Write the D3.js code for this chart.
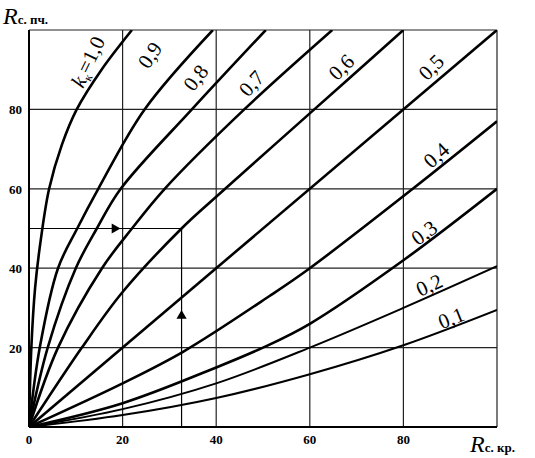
<!DOCTYPE html>
<html>
<head>
<meta charset="utf-8">
<script src="https://cdn.jsdelivr.net/npm/d3@7"></script>
<style>
  body { margin: 0; background: #fff; }
  text { font-family: "Liberation Serif", "DejaVu Serif", serif; }
</style>
</head>
<body>
<svg id="chart" width="535" height="458"></svg>
<script>
// curves: [R_kr, R_pch]
const curves = [
  { k: "1.0", pts: [[0,0],[0.5,20],[1.3,35],[2.5,47],[4.3,60],[7,71],[10.2,80],[15.5,90],[22,100]] },
  { k: "0.9", pts: [[0,0],[2.3,20],[6.2,40],[10.3,50],[14.8,60],[24.7,80],[39.3,100]] },
  { k: "0.8", pts: [[0,0],[4,20],[10,40],[14.5,50],[19.6,60],[34.8,80],[50.6,100]] },
  { k: "0.7", pts: [[0,0],[6.2,20],[15.6,40],[22,50],[29,60],[46,80],[64.8,100]] },
  { k: "0.6", pts: [[0,0],[11.3,20],[20,34],[32.6,50],[40,58],[60,79],[80,100]] },
  { k: "0.5", pts: [[0,0],[100,100]] },
  { k: "0.4", pts: [[0,0],[20,11],[33,19],[51.4,33],[60,40],[82,60],[100,77]] },
  { k: "0.3", pts: [[0,0],[20,6],[40,15],[50,20],[60,26],[80,42],[100,60]] },
  { k: "0.2", pts: [[0,0],[20,4.5],[40,11],[60,20],[80,30],[100,40.5]] },
  { k: "0.1", pts: [[0,0],[20,3],[40,7.3],[60,13.3],[80,20.6],[100,29.5]] }
];
// curve labels: text, position (data units), rotation
const labels = [
  { t: "1,0", x: 12.6, y: 92, r: -64, kk: true },
  { t: "0,9", x: 25.8, y: 93.7, r: -56 },
  { t: "0,8", x: 35.6, y: 88, r: -52 },
  { t: "0,7", x: 47.5, y: 86.6, r: -48 },
  { t: "0,6", x: 66.7, y: 90.7, r: -45 },
  { t: "0,5", x: 85.9, y: 90.7, r: -45 },
  { t: "0,4", x: 87, y: 68.5, r: -42 },
  { t: "0,3", x: 84.4, y: 49, r: -36 },
  { t: "0,2", x: 85.5, y: 35.8, r: -25 },
  { t: "0,1", x: 90.2, y: 27.5, r: -22 }
];
const gridVals = [20, 40, 60, 80, 100];
const tickVals = [20, 40, 60, 80];
const example = { x: 32.6, y: 50, arrowX: 18.3, arrowY: 28 };

const svg = d3.select("#chart");
const margin = { top: 30, right: 38, bottom: 31, left: 29 };
const width = 535 - margin.left - margin.right;
const height = 458 - margin.top - margin.bottom;
const g = svg.append("g").attr("transform", `translate(${margin.left},${margin.top})`);

const x = d3.scaleLinear().domain([0, 100]).range([0, width]);
const y = d3.scaleLinear().domain([0, 100]).range([height, 0]);

// grid
g.selectAll(".vg").data(gridVals).enter().append("line")
  .attr("x1", d => x(d)).attr("x2", d => x(d)).attr("y1", 0).attr("y2", height)
  .attr("stroke", "#222").attr("stroke-width", 1.2);
g.selectAll(".hg").data(gridVals).enter().append("line")
  .attr("y1", d => y(d)).attr("y2", d => y(d)).attr("x1", 0).attr("x2", width)
  .attr("stroke", "#222").attr("stroke-width", 1.2);
// axes lines
g.append("line").attr("x1", 0).attr("x2", width).attr("y1", height).attr("y2", height)
  .attr("stroke", "#000").attr("stroke-width", 2);
g.append("line").attr("x1", 0).attr("x2", 0).attr("y1", 0).attr("y2", height)
  .attr("stroke", "#000").attr("stroke-width", 2);

// tick labels
g.selectAll(".xt").data([0].concat(tickVals)).enter().append("text")
  .attr("x", d => x(d)).attr("y", height + 17).attr("text-anchor", "middle")
  .attr("font-size", 13).attr("font-weight", "bold").text(d => d);
g.selectAll(".yt").data(tickVals).enter().append("text")
  .attr("x", -7).attr("y", d => y(d) + 5).attr("text-anchor", "end")
  .attr("font-size", 13).attr("font-weight", "bold").text(d => d);

// axis titles
const yl = svg.append("text").attr("x", 3).attr("y", 24);
yl.append("tspan").attr("font-size", 24).attr("font-style", "italic").text("R");
yl.append("tspan").attr("font-size", 13).attr("font-weight", "bold").text("с. пч.");
const xl = svg.append("text").attr("x", 470).attr("y", 452);
xl.append("tspan").attr("font-size", 24).attr("font-style", "italic").text("R");
xl.append("tspan").attr("font-size", 13).attr("font-weight", "bold").text("с. кр.");

// example construction lines
g.append("line").attr("x1", x(0)).attr("x2", x(example.x)).attr("y1", y(example.y)).attr("y2", y(example.y))
  .attr("stroke", "#000").attr("stroke-width", 1.2);
g.append("line").attr("x1", x(example.x)).attr("x2", x(example.x)).attr("y1", y(0)).attr("y2", y(example.y))
  .attr("stroke", "#000").attr("stroke-width", 1.2);
g.append("path").attr("d", d3.symbol(d3.symbolTriangle, 45))
  .attr("transform", `translate(${x(example.arrowX)},${y(example.y)}) rotate(90)`);
g.append("path").attr("d", d3.symbol(d3.symbolTriangle, 45))
  .attr("transform", `translate(${x(example.x)},${y(example.arrowY)})`);

// curves
g.append("clipPath").attr("id", "clip").append("rect")
  .attr("width", width).attr("height", height);
const line = d3.line().x(d => x(d[0])).y(d => y(d[1])).curve(d3.curveCatmullRom.alpha(0.5));
g.append("g").attr("clip-path", "url(#clip)").selectAll(".c").data(curves).enter().append("path")
  .attr("d", d => line(d.pts)).attr("fill", "none").attr("stroke", "#000")
  .attr("stroke-width", d => +d.k <= 0.2 ? 2 : 2.6);

// labels
labels.forEach(l => {
  const t = g.append("text")
    .attr("transform", `translate(${x(l.x)},${y(l.y)}) rotate(${l.r})`)
    .attr("text-anchor", "middle").attr("dy", "0.35em").attr("font-size", 21);
  if (l.kk) {
    t.append("tspan").attr("font-style", "italic").text("k");
    t.append("tspan").attr("font-size", 12).attr("dy", "0.3em").text("к");
    t.append("tspan").attr("dy", "-0.2em").text("=" + l.t);
  } else {
    t.text(l.t);
  }
});
</script>
</body>
</html>
